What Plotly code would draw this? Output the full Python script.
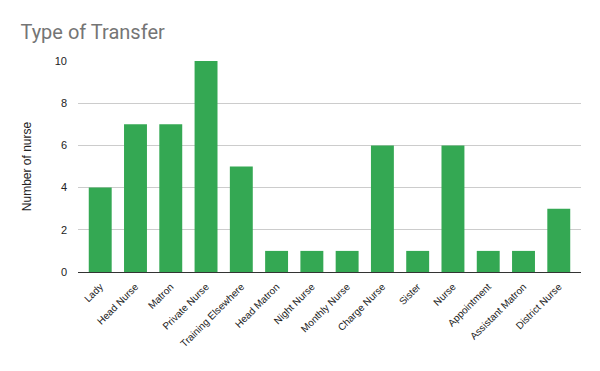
import plotly.graph_objects as go

categories = ["Lady", "Head Nurse", "Matron", "Private Nurse", "Training Elsewhere",
              "Head Matron", "Night Nurse", "Monthly Nurse", "Charge Nurse", "Sister",
              "Nurse", "Appointment", "Assistant Matron", "District Nurse"]
values = [4, 7, 7, 10, 5, 1, 1, 1, 6, 1, 6, 1, 1, 3]
y_ticks = [0, 2, 4, 6, 8, 10]

fig = go.Figure(go.Bar(x=categories, y=values, marker=dict(color="#34a853", line=dict(width=0))))

fig.update_layout(
    width=592, height=363,
    paper_bgcolor="white", plot_bgcolor="white",
    margin=dict(l=70, r=19, t=53, b=99, autoexpand=False),
    title=dict(text="Type of Transfer", x=0.021, xanchor="left", y=0.934, yanchor="middle",
               font=dict(family="Roboto, Arial, sans-serif", size=20, color="#757575")),
    bargap=0.35,
    font=dict(family="Arial, Liberation Sans, sans-serif", color="#222"),
    showlegend=False,
)
fig.update_xaxes(tickangle=-45, tickfont=dict(size=10, color="#222"), showgrid=False,
                 range=[-0.63, len(categories) - 1 + 0.63], ticklabelstandoff=4,
                 showline=True, linecolor="#333", linewidth=1, ticks="", automargin=False)
fig.update_yaxes(range=[0, 10], tickvals=y_ticks, tickfont=dict(size=11, color="#222"),
                 gridcolor="#cccccc", gridwidth=1, zeroline=False, showline=False,
                 title=dict(text="Number of nurse", font=dict(size=12, color="#222"), standoff=20),
                 ticks="", ticklabelstandoff=10, automargin=False)

fig.write_html("out.html")
